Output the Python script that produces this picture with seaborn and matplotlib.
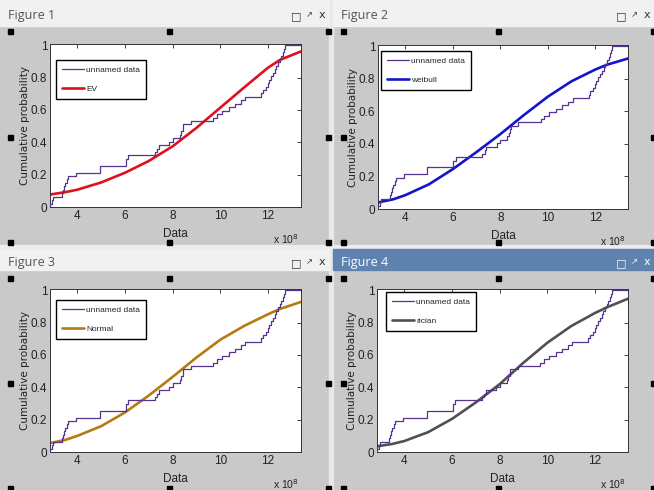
import numpy as np
import matplotlib
matplotlib.use("Agg")
import matplotlib.pyplot as plt
from matplotlib.patches import Rectangle
import seaborn as sns

sns.set_theme(style="white")
plt.rcParams["font.family"] = ["Liberation Sans", "DejaVu Sans"]

W, H = 654, 490

## DATA (x in units of 1e8)
samples = [2.87, 2.92, 2.98, 3.36, 3.40, 3.45, 3.50, 3.56, 3.62, 3.96,
           4.93, 4.93, 6.02, 6.02, 6.12, 7.25, 7.35, 7.42, 7.85, 8.00,
           8.30, 8.35, 8.42, 8.45, 8.75, 9.70, 9.85, 10.05, 10.35, 10.60,
           10.85, 11.05, 11.72, 11.80, 11.90, 11.98, 12.05, 12.12, 12.20, 12.28,
           12.35, 12.42, 12.50, 12.56, 12.62, 12.66, 12.70]

fit_x = [2.85, 3.5, 4, 5, 6, 7, 8, 9, 10, 11, 12, 12.5, 13.38]
ev_cdf = [0.077, 0.092, 0.107, 0.152, 0.212, 0.285, 0.376, 0.49, 0.615, 0.74, 0.862, 0.91, 0.962]
weibull_cdf = [0.04, 0.06, 0.085, 0.152, 0.245, 0.35, 0.46, 0.578, 0.69, 0.785, 0.857, 0.887, 0.925]
normal_cdf = [0.055, 0.075, 0.10, 0.16, 0.245, 0.35, 0.465, 0.585, 0.695, 0.78, 0.852, 0.885, 0.928]
rician_cdf = [0.035, 0.05, 0.068, 0.123, 0.205, 0.307, 0.42, 0.553, 0.676, 0.779, 0.86, 0.895, 0.948]

fit_names = ["EV", "weibull", "Normal", "rician"]
fit_values = [ev_cdf, weibull_cdf, normal_cdf, rician_cdf]
fit_colors = ["#e0101c", "#1414c8", "#b57a12", "#505050"]
window_titles = ["Figure 1", "Figure 2", "Figure 3", "Figure 4"]

X_LO, X_HI = 2.85, 13.38
ECDF_COLOR = "#55338f"
GRAY = "#c9c9c9"

# ecdf step coordinates
n = len(samples)
ecdf_x = [X_LO] + samples + [X_HI]
ecdf_y = [0.0] + list(np.arange(1, n + 1) / n) + [1.0]

fig = plt.figure(figsize=(W / 100, H / 100), dpi=100)
fig.patch.set_facecolor(GRAY)

# background axes in pixel coords for the window chrome
bg = fig.add_axes([0, 0, 1, 1])
bg.set_xlim(0, W)
bg.set_ylim(H, 0)
bg.axis("off")
bg.set_zorder(-1)

# windows: (left, right, top)
windows = [(0, 329, 0), (333, 654, 0), (0, 329, 246), (333, 654, 246)]

bg.add_patch(Rectangle((329, 0), 4, H, color="#e8e8e8"))
bg.add_patch(Rectangle((0, 245), W, 4, color="#ececec"))

for i, (l, r, t) in enumerate(windows):
    active = i == 3
    top = t + 3 if t > 0 else 0
    bar = "#5e83ae" if active else "#f1f1f1"
    bg.add_patch(Rectangle((l, top), r - l, t + 26 - top if t == 0 else 21, color=bar))
    ty = t + 15 if t == 0 else t + 16
    tc = "white" if active else "#555555"
    ic = "white" if active else "#333333"
    bg.text(l + 8, ty, window_titles[i], fontsize=9, color=tc, va="center", ha="left",
            family=["Open Sans", "DejaVu Sans"])
    bg.text(r - 33, ty + 1, "\u25a1", fontsize=8, color=ic, va="center", ha="center",
            family=["DejaVu Sans"])
    bg.text(r - 20, ty, "\u2197", fontsize=6, color=ic, va="center", ha="center",
            family=["DejaVu Sans"])
    bg.text(r - 7, ty, "x", fontsize=8, color=ic, va="center", ha="center",
            family=["DejaVu Sans"])
    # selection handles
    hx = [l + 10, (l + r) / 2 + 5, r - 1]
    hy = [t + 32, t + 137, t + 242]
    for a, xx in enumerate(hx):
        for b, yy in enumerate(hy):
            if a == 1 and b == 1:
                continue
            bg.add_patch(Rectangle((xx - 2.5, yy - 2.5), 5, 5, color="black"))

# axes rectangles in pixels: left, top, right, bottom
ax_px = [(50, 44, 301, 207), (378, 45, 628, 209), (50, 289, 301, 452), (377, 289, 628, 452)]
legend_px = [(56, 60), (381, 51), (56, 300), (386, 292)]

for i, (l, t, r, b) in enumerate(ax_px):
    ax = fig.add_axes([l / W, 1 - b / H, (r - l) / W, (b - t) / H])
    ax.set_facecolor("white")
    sns.lineplot(x=ecdf_x, y=ecdf_y, ax=ax, drawstyle="steps-post", estimator=None,
                 sort=False, color=ECDF_COLOR, linewidth=0.9, label="unnamed data",
                 zorder=3)
    sns.lineplot(x=fit_x, y=fit_values[i], ax=ax, color=fit_colors[i], linewidth=1.9,
                 label=fit_names[i], zorder=2)
    ax.set_xlim(X_LO, X_HI)
    ax.set_ylim(0, 1.008)
    ax.set_xticks([4, 6, 8, 10, 12])
    ax.set_yticks([0, 0.2, 0.4, 0.6, 0.8, 1])
    ax.set_yticklabels(["0", "0.2", "0.4", "0.6", "0.8", "1"])
    ax.tick_params(direction="in", length=3, width=0.6, top=True, right=True,
                   labelsize=8.5, pad=2, colors="#222222")
    for s in ax.spines.values():
        s.set_color("#333333")
        s.set_linewidth(0.7)
    ax.set_xlabel("")
    ax.set_ylabel("")
    lx, ly = legend_px[i]
    ax.legend(loc="upper left",
              bbox_to_anchor=((lx - l) / (r - l), 1 - (ly - t) / (b - t)),
              fontsize=6, frameon=True, fancybox=False, edgecolor="black",
              framealpha=1, handlelength=2.6, labelspacing=1.4, borderpad=0.7,
              borderaxespad=0, handletextpad=0.3)

    # labels drawn in pixel space
    bg.text((l + r) / 2, b + 27, "Data", fontsize=8.5, ha="center", va="center", color="#222222")
    bg.text(r - 2, b + 32, r"x 10$^8$", fontsize=7.5, ha="right", va="center", color="#222222")
    bg.text(l - 25, (t + b) / 2, "Cumulative probability", fontsize=7.5, rotation=90,
            ha="center", va="center", color="#222222", family=["DejaVu Sans"])

fig.savefig("out.png", dpi=100, facecolor=fig.get_facecolor())
